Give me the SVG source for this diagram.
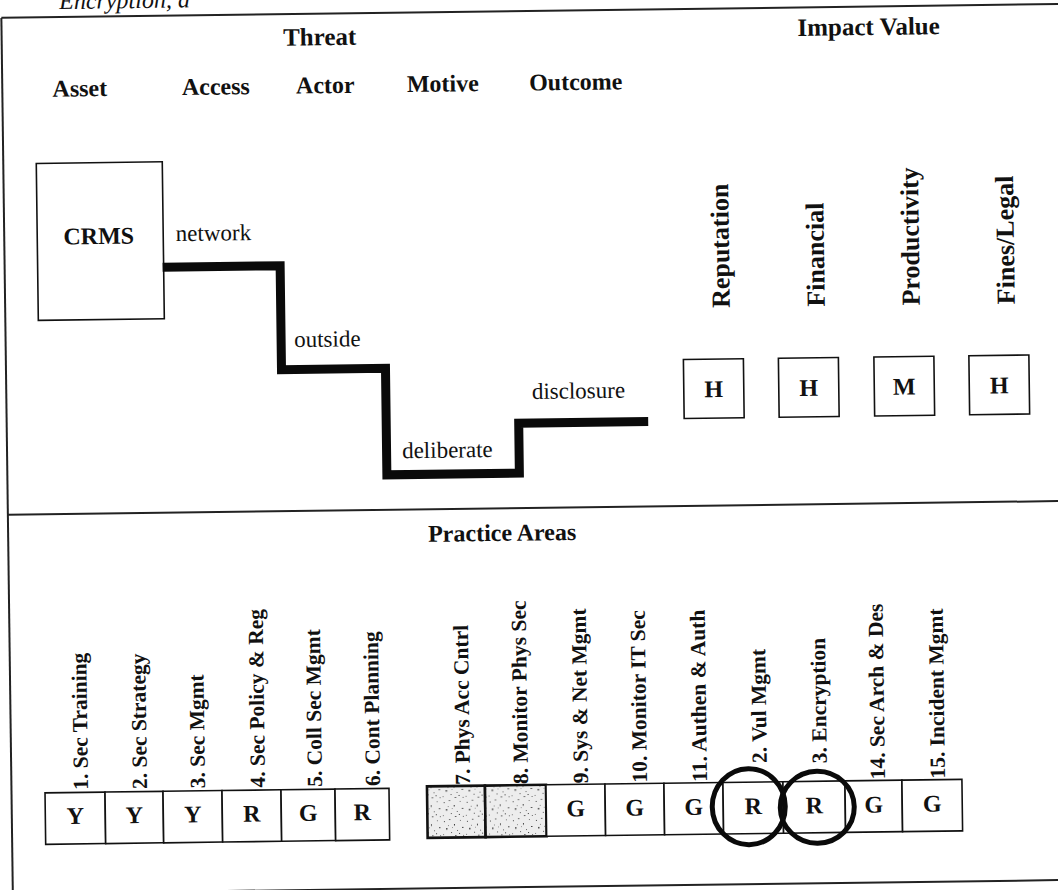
<svg xmlns="http://www.w3.org/2000/svg" width="1058" height="890" viewBox="0 0 1058 890">
  <style>
    .b { font-family: "Liberation Serif", "Times New Roman", serif; font-weight: bold; fill: #111; }
    .n { font-family: "Liberation Serif", "Times New Roman", serif; font-weight: normal; fill: #111; font-size: 23px; }
    .cap { font-family: "Liberation Serif", "Times New Roman", serif; font-style: italic; fill: #111; font-size: 24px; }
    .title { font-size: 25px; text-anchor: middle; }
    .col { font-size: 24px; text-anchor: middle; }
    .vlab { font-size: 26px; }
    .plab { font-size: 21.5px; }
    .val { font-size: 24px; text-anchor: middle; }
    .frame { stroke: #222; stroke-width: 2; fill: none; }
    .box { fill: #fff; stroke: #111; stroke-width: 1.6; }
    .shade { fill: url(#stipple); stroke: #111; stroke-width: 2.6; }
    .path { fill: none; stroke: #0a0a0a; stroke-width: 9; stroke-linejoin: miter; stroke-linecap: butt; }
    .ring { fill: none; stroke: #0a0a0a; stroke-width: 5; }
  </style>
  <defs>
    <!-- halftone speckle used for the two shaded practice cells -->
    <pattern id="stipple" width="23" height="19" patternUnits="userSpaceOnUse">
      <rect width="23" height="19" fill="#ededed"/>
      <rect x="2" y="3" width="1" height="1" fill="#444"/>
      <rect x="7" y="1" width="1.5" height="1" fill="#666"/>
      <rect x="12" y="6" width="1" height="1.5" fill="#333"/>
      <rect x="18" y="2" width="1" height="1" fill="#777"/>
      <rect x="4" y="10" width="1.5" height="1.5" fill="#444"/>
      <rect x="9" y="14" width="1" height="1" fill="#555"/>
      <rect x="15" y="12" width="1" height="1" fill="#666"/>
      <rect x="20" y="9" width="1.5" height="1" fill="#444"/>
      <rect x="1" y="16" width="1" height="1" fill="#777"/>
      <rect x="13" y="17" width="1.5" height="1" fill="#555"/>
      <rect x="17" y="15" width="1" height="1" fill="#333"/>
      <rect x="6" y="7" width="1" height="1" fill="#888"/>
      <rect x="10" y="9" width="1" height="1" fill="#999"/>
      <rect x="21" y="17" width="1" height="1" fill="#666"/>
    </pattern>
  </defs>

  <rect width="1058" height="890" fill="#fff"/>

  <g transform="rotate(-0.75 529 445)">
    <!-- caption line above the frame -->
    <text class="cap" x="65" y="3">Encryption, a</text>

    <!-- outer frame and section divider -->
    <g id="frame">
      <line class="frame" x1="7" y1="11" x2="1075" y2="11"/>
      <line class="frame" x1="7" y1="11" x2="7" y2="905"/>
      <line class="frame" x1="7" y1="508" x2="1075" y2="508"/>
      <line class="frame" x1="7" y1="887" x2="1075" y2="887"/>
    </g>

    <!-- section headers -->
    <g id="headers">
      <text class="b title" x="325" y="42.5">Threat</text>
      <text class="b title" x="874" y="39.5" font-size="26">Impact Value</text>
      <text class="b col" x="84.5" y="90.5">Asset</text>
      <text class="b col" x="220.5" y="90.5">Access</text>
      <text class="b col" x="330" y="90.5">Actor</text>
      <text class="b col" x="447.5" y="90.5">Motive</text>
      <text class="b col" x="580.5" y="90.5">Outcome</text>
    </g>

    <!-- asset -->
    <g id="asset-crms">
      <rect class="box" x="40" y="157" width="126" height="157"/>
      <text class="b col" x="101.5" y="238.5">CRMS</text>
    </g>

    <!-- threat path: access, actor, motive, outcome -->
    <g id="connectors">
      <path class="path" d="M165,262.5 H282.5 V366.5 H386.5 V473 H519 V423 H648.5"/>
    </g>
    <g id="threat-steps">
      <text class="n" x="178.5" y="236.5">network</text>
      <text class="n" x="295.5" y="344">outside</text>
      <text class="n" x="402" y="456.5">deliberate</text>
      <text class="n" x="532.5" y="399">disclosure</text>
    </g>

    <!-- impact values -->
    <g id="impact-reputation">
      <text class="b vlab" transform="translate(731.5 310.5) rotate(-90)">Reputation</text>
      <rect class="box" x="684.5" y="361.5" width="60" height="59"/>
      <text class="b val" x="714.5" y="399.5">H</text>
    </g>
    <g id="impact-financial">
      <text class="b vlab" transform="translate(826.5 310.5) rotate(-90)">Financial</text>
      <rect class="box" x="779.5" y="361.5" width="60" height="59"/>
      <text class="b val" x="809.5" y="399.5">H</text>
    </g>
    <g id="impact-productivity">
      <text class="b vlab" transform="translate(921.5 310.5) rotate(-90)">Productivity</text>
      <rect class="box" x="875" y="361.5" width="60" height="59"/>
      <text class="b val" x="905" y="399.5">M</text>
    </g>
    <g id="impact-fines">
      <text class="b vlab" transform="translate(1016.5 310.5) rotate(-90)">Fines/Legal</text>
      <rect class="box" x="970" y="361.5" width="60" height="59"/>
      <text class="b val" x="1000" y="399.5">H</text>
    </g>

    <!-- practice areas -->
    <text class="b col" x="501" y="540.5">Practice Areas</text>

    <g id="pa-1">
      <text class="b plab" transform="translate(83.5 784) rotate(-90)">1. Sec Training</text>
      <rect class="box" x="40.5" y="786.5" width="60" height="51.5"/>
      <text class="b val" x="70.5" y="818">Y</text>
    </g>
    <g id="pa-2">
      <text class="b plab" transform="translate(142.5 784) rotate(-90)">2. Sec Strategy</text>
      <rect class="box" x="100.5" y="786.5" width="58" height="51.5"/>
      <text class="b val" x="129.5" y="818">Y</text>
    </g>
    <g id="pa-3">
      <text class="b plab" transform="translate(200.5 784) rotate(-90)">3. Sec Mgmt</text>
      <rect class="box" x="158.5" y="786.5" width="59" height="51.5"/>
      <text class="b val" x="188" y="818">Y</text>
    </g>
    <g id="pa-4">
      <text class="b plab" transform="translate(260.5 784) rotate(-90)">4. Sec Policy &amp; Reg</text>
      <rect class="box" x="217.5" y="786.5" width="59" height="51.5"/>
      <text class="b val" x="247" y="818">R</text>
    </g>
    <g id="pa-5">
      <text class="b plab" transform="translate(317.5 784) rotate(-90)">5. Coll Sec Mgmt</text>
      <rect class="box" x="276.5" y="786.5" width="54" height="51.5"/>
      <text class="b val" x="303.5" y="818">G</text>
    </g>
    <g id="pa-6">
      <text class="b plab" transform="translate(375.5 784) rotate(-90)">6. Cont Planning</text>
      <rect class="box" x="330.5" y="786.5" width="54" height="51.5"/>
      <text class="b val" x="357.5" y="818">R</text>
    </g>

    <g id="pa-7">
      <text class="b plab" transform="translate(465.5 784) rotate(-90)">7. Phys Acc Cntrl</text>
      <rect class="shade" x="422.5" y="785" width="58" height="51.5"/>
    </g>
    <g id="pa-8">
      <text class="b plab" transform="translate(523.5 784) rotate(-90)">8. Monitor Phys Sec</text>
      <rect class="shade" x="480.5" y="785" width="61" height="51.5"/>
    </g>
    <g id="pa-9">
      <text class="b plab" transform="translate(583.5 784) rotate(-90)">9. Sys &amp; Net Mgmt</text>
      <rect class="box" x="541.5" y="785" width="59" height="51.5"/>
      <text class="b val" x="571" y="817">G</text>
    </g>
    <g id="pa-10">
      <text class="b plab" transform="translate(642.5 784) rotate(-90)">10. Monitor IT Sec</text>
      <rect class="box" x="600.5" y="785" width="59" height="51.5"/>
      <text class="b val" x="630" y="817">G</text>
    </g>
    <g id="pa-11">
      <text class="b plab" transform="translate(702.5 784) rotate(-90)">11. Authen &amp; Auth</text>
      <rect class="box" x="659.5" y="785" width="59" height="51.5"/>
      <text class="b val" x="689" y="817">G</text>
    </g>
    <g id="pa-12">
      <text class="b plab" transform="translate(762.5 766) rotate(-90)">2. Vul Mgmt</text>
      <rect class="box" x="718.5" y="785" width="60" height="51.5"/>
      <text class="b val" x="748.5" y="817">R</text>
    </g>
    <g id="pa-13">
      <text class="b plab" transform="translate(822.5 767) rotate(-90)">3. Encryption</text>
      <rect class="box" x="778.5" y="785" width="62" height="51.5"/>
      <text class="b val" x="809.5" y="817">R</text>
    </g>
    <g id="pa-14">
      <text class="b plab" transform="translate(880.5 784) rotate(-90)">14. Sec Arch &amp; Des</text>
      <rect class="box" x="840.5" y="785" width="57" height="51.5"/>
      <text class="b val" x="869" y="817">G</text>
    </g>
    <g id="pa-15">
      <text class="b plab" transform="translate(940.5 784) rotate(-90)">15. Incident Mgmt</text>
      <rect class="box" x="897.5" y="785" width="60" height="51.5"/>
      <text class="b val" x="927.5" y="817">G</text>
    </g>

    <!-- highlighted practice areas -->
    <g id="highlights">
      <ellipse class="ring" cx="744" cy="809.5" rx="36.5" ry="38"/>
      <ellipse class="ring" cx="812.5" cy="811" rx="37" ry="36"/>
    </g>
  </g>
</svg>
